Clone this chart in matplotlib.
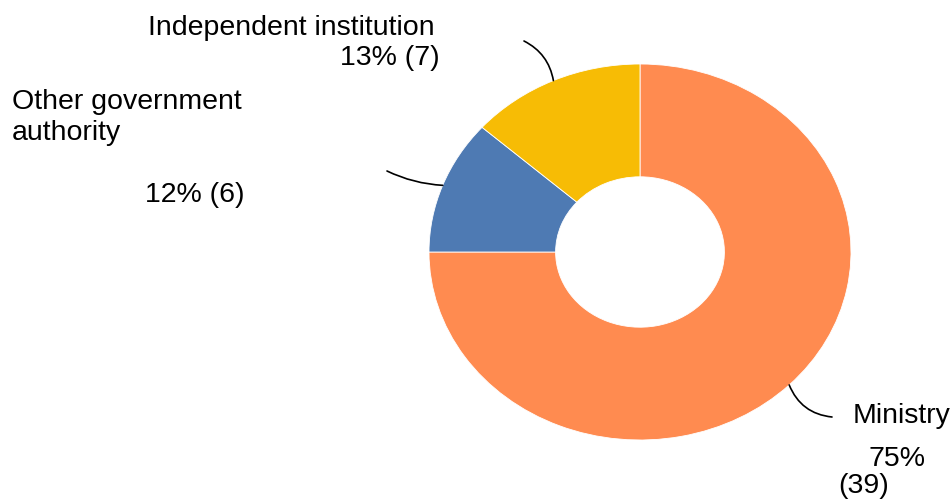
"""Donut chart: type of institution responsible."""

import numpy as np
import matplotlib.pyplot as plt

plt.rcParams["font.family"] = ["Liberation Sans", "DejaVu Sans"]

labels = ["Ministry", "Other government authority", "Independent institution"]
counts = [39, 6, 7]
colors = ["#FF8B50", "#4E7AB3", "#F7BC05"]

W, H = 952, 502
# donut centre and radii in pixels (the chart is slightly wider than tall)
CX, CY = 640, 253
RX, RY = 211, 188
FS = 20.5


def px(x, y):
    """pixel (from top-left) -> figure fraction"""
    return x / W, 1 - y / H


fig = plt.figure(figsize=(W / 100, H / 100), dpi=100)
ax = fig.add_axes([0, 0, 1, 1])
wedges, _ = ax.pie(
    counts,
    colors=colors,
    startangle=90,
    counterclock=False,
    radius=1,
    wedgeprops=dict(width=0.6, edgecolor="white", linewidth=0.6),
)
ax.set_aspect("auto")
ax.set_xlim(-CX / RX, (W - CX) / RX)
ax.set_ylim(-(H - CY) / RY, CY / RY)
ax.axis("off")

total = sum(counts)
pct = [round(c / total * 100) for c in counts]

# text blocks (pixel anchors)
fig.text(*px(435, 35), labels[2], ha="right", va="baseline", fontsize=FS)
fig.text(*px(440, 65), f"{pct[2]}% ({counts[2]})", ha="right", va="baseline", fontsize=FS)

fig.text(*px(12, 109), "Other government", ha="left", va="baseline", fontsize=FS)
fig.text(*px(12, 140), "authority", ha="left", va="baseline", fontsize=FS)
fig.text(*px(145, 202), f"{pct[1]}% ({counts[1]})", ha="left", va="baseline", fontsize=FS)

fig.text(*px(853, 423), labels[0], ha="left", va="baseline", fontsize=FS)
fig.text(*px(868, 466), f"{pct[0]}%", ha="left", va="baseline", fontsize=FS)
fig.text(*px(838, 493), f"({counts[0]})", ha="left", va="baseline", fontsize=FS)

# leader lines from wedge mid-points to the labels
ends = {0: (832, 418), 1: (387, 172), 2: (524, 42)}
rads = {0: -0.3, 1: 0.1, 2: -0.25}
for i, w in enumerate(wedges):
    mid = np.deg2rad((w.theta1 + w.theta2) / 2)
    ex, ey = ends[i]
    ax.annotate(
        "",
        xy=(np.cos(mid), np.sin(mid)),
        xytext=(ex, H - ey),
        textcoords="figure pixels",
        arrowprops=dict(arrowstyle="-", color="black", lw=1.2,
                        connectionstyle=f"arc3,rad={rads[i]}",
                        shrinkA=0, shrinkB=0),
    )

fig.savefig("out.png", dpi=100)
